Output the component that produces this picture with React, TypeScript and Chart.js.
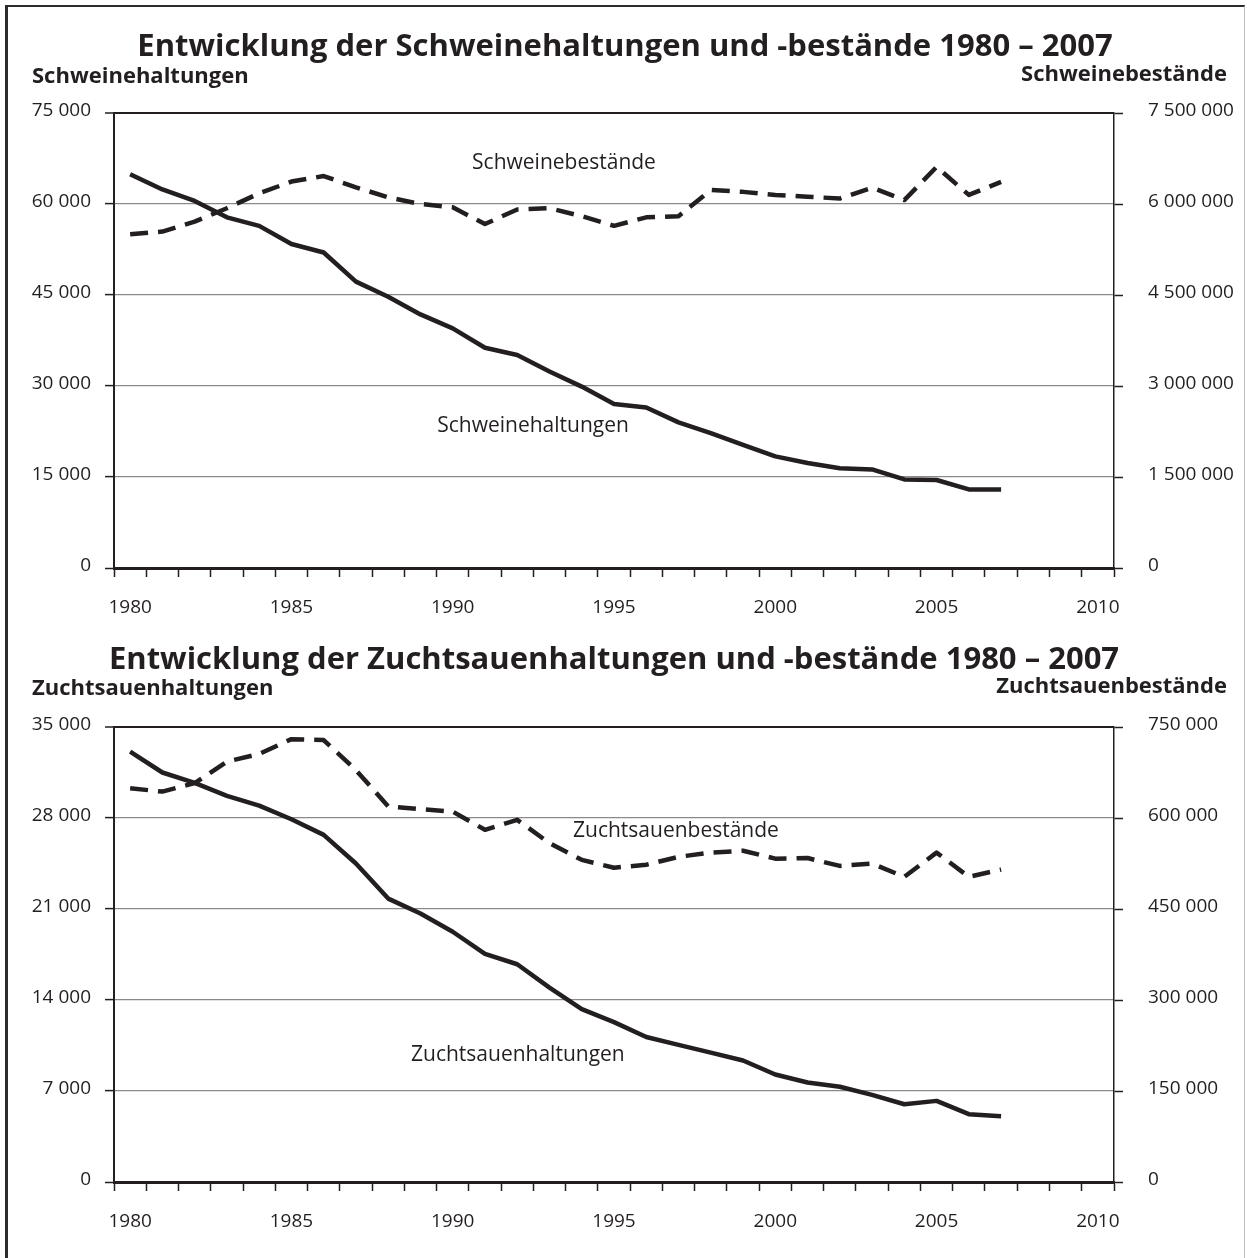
import React, { useEffect, useRef } from 'react';
import { Chart, registerables } from 'chart.js';

Chart.register(...registerables);

// ---------- data ----------
const YEARS = [
  '1980', '1981', '1982', '1983', '1984', '1985', '1986', '1987', '1988', '1989',
  '1990', '1991', '1992', '1993', '1994', '1995', '1996', '1997', '1998', '1999',
  '2000', '2001', '2002', '2003', '2004', '2005', '2006', '2007', '2008', '2009', '2010',
];

// Schweine (1980 – 2007)
const SCHWEINE_HALTUNGEN = [
  64900, 62400, 60500, 57800, 56400, 53400, 52000, 47200, 44700, 41800,
  39500, 36300, 35100, 32400, 29900, 27050, 26450, 24000, 22250, 20300,
  18400, 17300, 16450, 16250, 14600, 14500, 12950, 12950,
];
const SCHWEINE_BESTAENDE = [
  5500000, 5545000, 5710000, 5930000, 6175000, 6370000, 6460000, 6275000, 6110000, 6000000,
  5945000, 5670000, 5910000, 5930000, 5800000, 5640000, 5780000, 5800000, 6230000, 6200000,
  6150000, 6120000, 6090000, 6270000, 6065000, 6610000, 6150000, 6365000,
];

// Zuchtsauen (1980 – 2007)
const ZUCHTSAUEN_HALTUNGEN = [
  33100, 31500, 30700, 29700, 28950, 27900, 26700, 24500, 21800, 20650,
  19250, 17550, 16750, 14950, 13300, 12300, 11150, 10550, 9950, 9350,
  8270, 7650, 7330, 6700, 5980, 6240, 5220, 5060,
];
const ZUCHTSAUEN_BESTAENDE = [
  649000, 643500, 657500, 693000, 705500, 730000, 728500, 679000, 619000, 614500,
  610500, 580500, 597000, 558500, 531000, 518000, 523000, 536000, 543000, 546000,
  533000, 534000, 521000, 525000, 503000, 543000, 503000, 515000,
];

// axis ranges [min, max, step]
const SCHWEINE_LEFT_AXIS = [0, 75000, 15000];
const SCHWEINE_RIGHT_AXIS = [0, 7500000, 1500000];
const ZUCHT_LEFT_AXIS = [0, 35000, 7000];
const ZUCHT_RIGHT_AXIS = [0, 750000, 150000];

// ---------- styling ----------
const FONT = '"Open Sans", "Noto Sans", sans-serif';
const INK = '#231f20';
const GRID = '#8a8a8a';

const fmt = (n: number) => String(n).replace(/\B(?=(\d{3})+(?!\d))/g, ' ');

type SeriesLabel = { text: string; at: number; axis: 'yL' | 'yR'; value: number };
type Cfg = {
  title: string;
  titleX: number;
  titleY: number;
  leftHeader: string;
  rightHeader: string;
  leftHeaderY: number;
  rightHeaderY: number;
  leftName: string;
  rightName: string;
  left: number[];
  right: number[];
  leftAxis: number[];
  rightAxis: number[];
  seriesLabels: SeriesLabel[];
};

const textPlugin = {
  id: 'texts',
  afterDraw(chart: any, _args: any, opts: any) {
    const { ctx, scales } = chart;
    ctx.save();
    ctx.fillStyle = INK;
    ctx.textBaseline = 'alphabetic';
    ctx.font = `bold 31px ${FONT}`;
    ctx.textAlign = 'center';
    ctx.fillText(opts.title, opts.titleX, opts.titleY);
    ctx.font = `bold 22px ${FONT}`;
    ctx.textAlign = 'left';
    ctx.fillText(opts.leftHeader, 32, opts.leftHeaderY);
    ctx.textAlign = 'right';
    ctx.fillText(opts.rightHeader, 1227, opts.rightHeaderY);
    ctx.font = `21px ${FONT}`;
    ctx.textAlign = 'center';
    ctx.textBaseline = 'middle';
    for (const l of opts.seriesLabels as SeriesLabel[]) {
      const x = scales.x.getPixelForValue(l.at);
      const y = scales[l.axis].getPixelForValue(l.value);
      ctx.fillText(l.text, x, y);
    }
    ctx.restore();
  },
};

function DualLineChart({ cfg, top }: { cfg: Cfg; top: number }) {
  const ref = useRef<HTMLCanvasElement | null>(null);

  useEffect(() => {
    if (!ref.current) return;
    const tickFont = { family: FONT, size: 19 };
    const chart = new Chart(ref.current, {
      type: 'line',
      data: {
        labels: YEARS,
        datasets: [
          {
            label: cfg.leftName,
            data: cfg.left,
            yAxisID: 'yL',
            borderColor: INK,
            borderWidth: 4.5,
            pointRadius: 0,
            tension: 0,
            fill: false,
            borderJoinStyle: 'round',
          },
          {
            label: cfg.rightName,
            data: cfg.right,
            yAxisID: 'yR',
            borderColor: INK,
            borderWidth: 4.5,
            borderDash: [18, 10],
            pointRadius: 0,
            tension: 0,
            fill: false,
            borderJoinStyle: 'round',
          },
        ],
      },
      options: {
        animation: false,
        responsive: false,
        devicePixelRatio: 1,
        layout: { padding: { top: 113, bottom: 0, left: 0, right: 0 } },
        plugins: {
          legend: { display: false },
          tooltip: { enabled: false },
          title: { display: false },
          texts: {
            title: cfg.title,
            titleX: cfg.titleX,
            titleY: cfg.titleY,
            leftHeader: cfg.leftHeader,
            rightHeader: cfg.rightHeader,
            leftHeaderY: cfg.leftHeaderY,
            rightHeaderY: cfg.rightHeaderY,
            seriesLabels: cfg.seriesLabels,
          },
        } as any,
        scales: {
          x: {
            type: 'category',
            offset: true,
            grid: {
              offset: true,
              drawOnChartArea: false,
              drawTicks: true,
              tickLength: 9,
              tickColor: INK,
              tickWidth: 1.5,
            },
            border: { display: true, color: INK, width: 3 },
            ticks: {
              autoSkip: false,
              maxRotation: 0,
              minRotation: 0,
              padding: 19,
              color: INK,
              font: tickFont,
              callback: function (this: any, v: any, i: number) {
                return i % 5 === 0 ? this.getLabelForValue(v) : '';
              },
            },
            afterFit: (s: any) => {
              s.height = 52;
            },
          },
          yL: {
            type: 'linear',
            position: 'left',
            min: cfg.leftAxis[0],
            max: cfg.leftAxis[1],
            ticks: {
              stepSize: cfg.leftAxis[2],
              padding: 14,
              color: INK,
              font: tickFont,
              labelOffset: -2,
              callback: (v: any) => fmt(Number(v)),
            },
            grid: {
              color: (c: any) =>
                c.tick && (c.tick.value === cfg.leftAxis[1] || c.tick.value === 0) ? INK : GRID,
              lineWidth: (c: any) =>
                c.tick && c.tick.value === 0 ? 3 : c.tick && c.tick.value === cfg.leftAxis[1] ? 2 : 1.2,
              drawTicks: true,
              tickLength: 9,
              tickColor: INK,
              tickWidth: 1.5,
            },
            border: { display: true, color: INK, width: 2 },
            afterFit: (s: any) => {
              s.width = 114;
            },
          },
          yR: {
            type: 'linear',
            position: 'right',
            min: cfg.rightAxis[0],
            max: cfg.rightAxis[1],
            ticks: {
              stepSize: cfg.rightAxis[2],
              padding: 25,
              color: INK,
              font: tickFont,
              labelOffset: -2,
              callback: (v: any) => fmt(Number(v)),
            },
            grid: {
              drawOnChartArea: false,
              drawTicks: true,
              tickLength: 9,
              tickColor: INK,
              tickWidth: 1.5,
            },
            border: { display: true, color: INK, width: 1.5 },
            afterFit: (s: any) => {
              s.width = 133;
            },
          },
        },
      } as any,
      plugins: [textPlugin as any],
    });
    return () => chart.destroy();
  }, [cfg]);

  return (
    <canvas
      ref={ref}
      width={1247}
      height={620}
      style={{ position: 'absolute', left: 0, top, width: 1247, height: 620 }}
    />
  );
}

const SCHWEINE_CFG: Cfg = {
  title: 'Entwicklung der Schweinehaltungen und -bestände 1980 – 2007',
  titleX: 625,
  titleY: 56,
  leftHeader: 'Schweinehaltungen',
  rightHeader: 'Schweinebestände',
  leftHeaderY: 83,
  rightHeaderY: 81,
  leftName: 'Schweinehaltungen',
  rightName: 'Schweinebestände',
  left: SCHWEINE_HALTUNGEN,
  right: SCHWEINE_BESTAENDE,
  leftAxis: SCHWEINE_LEFT_AXIS,
  rightAxis: SCHWEINE_RIGHT_AXIS,
  seriesLabels: [
    { text: 'Schweinebestände', at: 13.45, axis: 'yR', value: 6676000 },
    { text: 'Schweinehaltungen', at: 12.49, axis: 'yL', value: 23450 },
  ],
};

const ZUCHT_CFG: Cfg = {
  title: 'Entwicklung der Zuchtsauenhaltungen und -bestände 1980 – 2007',
  titleX: 614,
  titleY: 55,
  leftHeader: 'Zuchtsauenhaltungen',
  rightHeader: 'Zuchtsauenbestände',
  leftHeaderY: 81,
  rightHeaderY: 79,
  leftName: 'Zuchtsauenhaltungen',
  rightName: 'Zuchtsauenbestände',
  left: ZUCHTSAUEN_HALTUNGEN,
  right: ZUCHTSAUEN_BESTAENDE,
  leftAxis: ZUCHT_LEFT_AXIS,
  rightAxis: ZUCHT_RIGHT_AXIS,
  seriesLabels: [
    { text: 'Zuchtsauenbestände', at: 16.92, axis: 'yR', value: 579000 },
    { text: 'Zuchtsauenhaltungen', at: 12.02, axis: 'yL', value: 9750 },
  ],
};

export default function App() {
  return (
    <div
      style={{
        position: 'absolute',
        left: 0,
        top: 0,
        width: 1247,
        height: 1258,
        background: '#ffffff',
        overflow: 'hidden',
      }}
    >
      <div
        style={{
          position: 'absolute',
          left: 5,
          top: 5,
          width: 1236,
          height: 1270,
          borderTop: '2.5px solid #2b2b2b',
          borderLeft: '3px solid #2b2b2b',
          borderRight: '1px solid #bdbdbd',
        }}
      />
      <DualLineChart cfg={SCHWEINE_CFG} top={0} />
      <DualLineChart cfg={ZUCHT_CFG} top={614} />
    </div>
  );
}
